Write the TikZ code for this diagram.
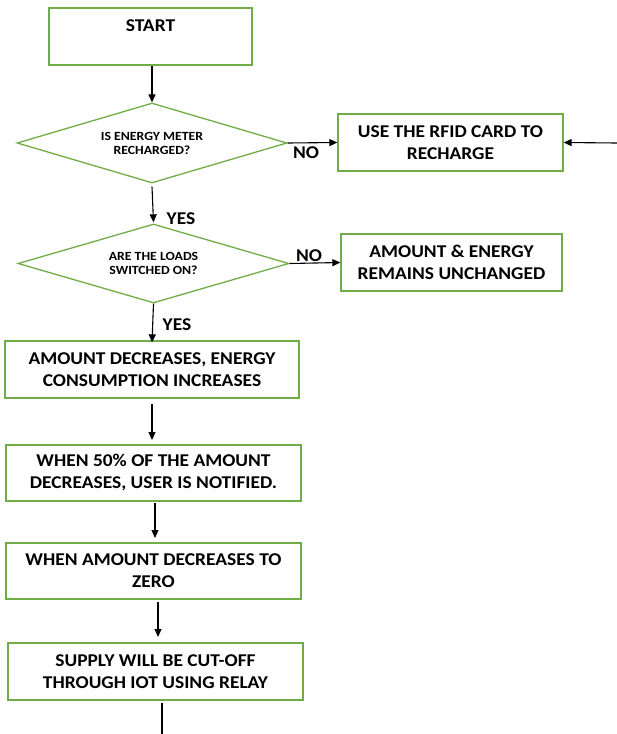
\documentclass[tikz,border=0pt]{standalone}
\usepackage{fontspec}
\setmainfont{Carlito}
\newfontfamily\boxfont[FakeStretch=1.08]{Carlito}
\newfontfamily\diafont[FakeStretch=1.1]{Carlito}
\usetikzlibrary{shapes.geometric,arrows.meta}
\definecolor{boxgreen}{RGB}{112,173,71}
\begin{document}
\begin{tikzpicture}[x=1pt,y=-1pt,
  box/.style={draw=boxgreen,line width=1.3pt,rectangle,inner sep=0pt,align=center,
    font=\boxfont\bfseries\fontsize{18}{22}\selectfont},
  dia/.style={draw=boxgreen,line width=1.3pt,diamond,aspect=3.4,inner sep=0pt,align=center,
    font=\diafont\bfseries\fontsize{12.5}{14}\selectfont},
  lbl/.style={inner sep=0pt,font=\boxfont\bfseries\fontsize{18}{20}\selectfont},
  arr/.style={line width=1.1pt,-{Triangle[length=8pt,width=7pt]}},
  ln/.style={line width=1.1pt}]
\useasboundingbox (0,0) rectangle (617,734);
\node[box,minimum width=203pt,minimum height=57pt] (start) at (150.5,36.5) {START\\\mbox{}};
\node[dia,minimum width=270pt,minimum height=80pt] (d1) at (152,143) {IS ENERGY METER\\RECHARGED?};
\node[box,minimum width=225pt,minimum height=57pt] (rfid) at (450.5,142.5) {USE THE RFID CARD TO\\RECHARGE};
\node[dia,minimum width=271pt,minimum height=79pt] (d2) at (153.5,263.5) {ARE THE LOADS\\SWITCHED ON?};
\node[box,minimum width=221pt,minimum height=57pt] (amt) at (451.5,262.5) {AMOUNT \& ENERGY\\REMAINS UNCHANGED};
\node[box,minimum width=294pt,minimum height=57pt] (b3) at (152,369.5) {AMOUNT DECREASES, ENERGY\\CONSUMPTION INCREASES};
\node[box,minimum width=295pt,minimum height=56pt] (b4) at (153.5,473) {WHEN 50\% OF THE AMOUNT\\DECREASES, USER IS NOTIFIED.};
\node[box,minimum width=295pt,minimum height=56pt] (b5) at (153.5,571) {WHEN AMOUNT DECREASES TO\\ZERO};
\node[box,minimum width=295pt,minimum height=57pt] (b6) at (155.5,671.5) {SUPPLY WILL BE CUT-OFF\\THROUGH IOT USING RELAY};
\node[lbl] (no1) at (306,153) {NO};
\node[lbl] (no2) at (309,256) {NO};
\node[lbl] (yes1) at (181,219) {YES};
\node[lbl] (yes2) at (177,325) {YES};
\coordinate (rin) at (617,143);
\coordinate (bend) at (162,734);
\coordinate (a1) at (152,66);
\coordinate (a3) at (152,404);
\coordinate (a3e) at (152,440);
\coordinate (a4) at (155,503);
\coordinate (a4e) at (155,538);
\coordinate (a5) at (158,602);
\coordinate (a5e) at (158,637);
\coordinate (a6) at (162,703);
\draw[arr] (a1) -- (d1.north);
\draw[arr] (d1.east) -- (rfid.west);
\draw[arr] (rin) -- (rfid.east);
\draw[arr] ([yshift=-3pt]d1.south) -- ([yshift=1pt]d2.north);
\draw[arr] (d2.east) -- (amt.west);
\draw[arr] (d2.south) -- ([yshift=-2pt]b3.north);
\draw[arr] (a3) -- (a3e);
\draw[arr] (a4) -- (a4e);
\draw[arr] (a5) -- (a5e);
\draw[ln] (a6) -- (bend);
\end{tikzpicture}
\end{document}
